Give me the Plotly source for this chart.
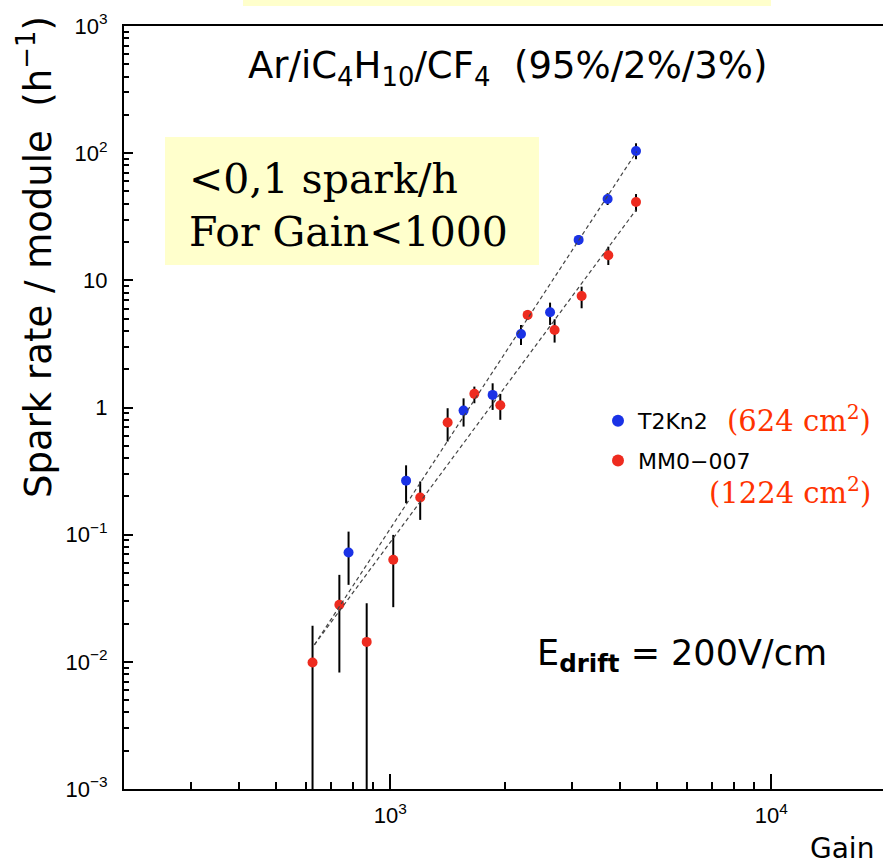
import math
import plotly.graph_objects as go

# ---------------- data ----------------
t2k_gain = [777, 1100, 1557, 1856, 2203, 2626, 3121, 3718, 4415]
t2k_rate = [0.0723, 0.266, 0.945, 1.256, 3.79, 5.61, 20.8, 43.6, 104]
t2k_hi = [0.1057, 0.351, 1.18, 1.55, 4.46, 6.68, 22.7, 48.4, 119.6]
t2k_lo = [0.0403, 0.177, 0.708, 0.957, 3.10, 4.46, 19.0, 39.1, 89.6]

mm_gain = [625, 735, 867, 1018, 1198, 1414, 1662, 1944, 2293, 2699, 3178, 3734, 4415]
mm_rate = [0.00987, 0.0281, 0.01435, 0.0634, 0.196, 0.761, 1.28, 1.04, 5.35, 4.07, 7.54, 15.75, 41.3]
mm_hi = [0.0192, 0.0483, 0.0289, 0.0996, 0.262, 0.987, 1.46, 1.28, 5.85, 4.94, 8.92, 18.4, 47.7]
mm_lo = [0.0001, 0.00824, 0.0001, 0.0269, 0.1307, 0.54, 1.08, 0.80, 4.89, 3.24, 6.03, 13.2, 34.7]

# fitted power-law lines (end points)
t2k_fit_gain = [632, 4431]
t2k_fit_rate = [0.0136, 102.8]
mm_fit_gain = [632, 4415]
mm_fit_rate = [0.0136, 35.8]

series_names = ["T2Kn2", "MM0\u2212007"]
areas = ["(624 cm<sup>2</sup>)", "(1224 cm<sup>2</sup>)"]

# tick labels
x_tickvals = [1e3, 1e4]
x_ticktext = ["10<sup>3</sup>", "10<sup>4</sup>"]
y_tickvals = [1e-3, 1e-2, 1e-1, 1, 10, 100, 1000]
y_ticktext = ["10<sup>\u22123</sup>", "10<sup>\u22122</sup>", "10<sup>\u22121</sup>",
              "1", "10", "10<sup>2</sup>", "10<sup>3</sup>"]

# ---------------- layout geometry ----------------
W, H = 883, 862
L, T, B = 124, 26, 789
R = W
PW, PH = R - L, B - T


def px(x):
    return (x - L) / PW


def py(y):
    return (B - y) / PH


BLUE = "#1a32e6"
RED = "#ee2b1f"
TXTRED = "#ff3300"
SANS = "DejaVu Sans"

fig = go.Figure()


def add_series(gx, gy, hi, lo, name, color, group):
    fig.add_trace(go.Scatter(
        x=gx, y=gy, mode="markers", name=name, legendgroup=group,
        marker=dict(color=color, size=10, line=dict(width=0)),
        error_y=dict(type="data", symmetric=False,
                     array=[h - v for h, v in zip(hi, gy)],
                     arrayminus=[v - l for v, l in zip(gy, lo)],
                     color="black", thickness=2, width=0),
    ))


add_series(t2k_gain, t2k_rate, t2k_hi, t2k_lo, series_names[0], BLUE, "a")
add_series(mm_gain, mm_rate, mm_hi, mm_lo, series_names[1], RED, "b")

for fx, fy in [(t2k_fit_gain, t2k_fit_rate), (mm_fit_gain, mm_fit_rate)]:
    fig.add_trace(go.Scatter(x=fx, y=fy, mode="lines", showlegend=False,
                             line=dict(color="#444444", width=1.2, dash="4px,3px"),
                             hoverinfo="skip"))

x_lo = math.log10(200)
x_hi = x_lo + PW / 381.0

# minor tick positions (2..9 in every decade)
x_minor = [m * 10 ** e for e in (2, 3, 4) for m in range(2, 10)]
y_minor = [m * 10.0 ** e for e in range(-3, 3) for m in range(2, 10)]

fig.update_layout(
    xaxis=dict(
        type="log", tickmode="array", tickvals=x_tickvals, ticktext=x_ticktext,
        range=[x_lo, x_hi], showgrid=False, zeroline=False,
        showline=True, linecolor="black", linewidth=2, mirror=True,
        ticks="inside", tickcolor="black", tickwidth=1.5, ticklen=15,
        minor=dict(ticks="inside", ticklen=7.5, tickwidth=1.5, tickcolor="black",
                   tickmode="array", tickvals=x_minor, showgrid=False),
        tickfont=dict(family="Liberation Sans", size=22, color="black"),
        ticklabelstandoff=6,
    ),
    yaxis=dict(
        type="log", tickmode="array", tickvals=y_tickvals, ticktext=y_ticktext,
        range=[-3, 3], showgrid=False, zeroline=False,
        showline=True, linecolor="black", linewidth=2, mirror=False,
        ticks="inside", tickcolor="black", tickwidth=1.5, ticklen=9,
        minor=dict(ticks="inside", ticklen=4.5, tickwidth=1.5, tickcolor="black",
                   tickmode="array", tickvals=y_minor, showgrid=False),
        tickfont=dict(family="Liberation Sans", size=22, color="black"),
        ticklabelstandoff=10,
    ),
)

shapes = [
    dict(type="rect", xref="paper", yref="paper", x0=px(165), x1=px(539),
         y0=py(265), y1=py(137), fillcolor="#ffffcc", line=dict(width=0), layer="below"),
    dict(type="rect", xref="paper", yref="paper", x0=px(243), x1=px(771),
         y0=py(6), y1=py(0), fillcolor="#ffffcc", line=dict(width=0), layer="below"),
]

annotations = [
    dict(text="Ar/iC<sub>4</sub>H<sub>10</sub>/CF<sub>4</sub>  (95%/2%/3%)",
         x=px(507), y=py(68), xanchor="center", yanchor="middle",
         font=dict(family=SANS, size=37, color="black")),
    dict(text="Spark rate / module  (h<sup>\u22121</sup>)", textangle=-90,
         x=px(35), y=py(257), xanchor="center", yanchor="middle",
         font=dict(family=SANS, size=37, color="black")),
    dict(text="Gain", x=px(876), y=py(848), xanchor="right", yanchor="middle",
         font=dict(family=SANS, size=28, color="black")),
    dict(text="E<sub><b>drift</b></sub> = 200V/cm", x=px(682), y=py(655),
         xanchor="center", yanchor="middle",
         font=dict(family=SANS, size=35, color="black")),
    dict(text="&lt;0,1 spark/h<br>For Gain&lt;1000", x=px(187), y=py(206),
         xanchor="left", yanchor="middle", align="left",
         font=dict(family="DejaVu Serif", size=41, color="black")),
    dict(text=areas[0], x=px(873), y=py(419), xanchor="right", yanchor="middle",
         font=dict(family="DejaVu Serif", size=29, color=TXTRED)),
    dict(text=areas[1], x=px(873), y=py(491), xanchor="right", yanchor="middle",
         font=dict(family="DejaVu Serif", size=29, color=TXTRED)),
]
for a in annotations:
    a.update(xref="paper", yref="paper", showarrow=False)

fig.update_layout(
    width=W, height=H, autosize=False,
    margin=dict(l=L, r=W - R, t=T, b=H - B, pad=0),
    paper_bgcolor="white", plot_bgcolor="white",
    shapes=shapes, annotations=annotations,
    showlegend=True,
    legend=dict(x=px(598), y=py(400), xanchor="left", yanchor="top",
                bgcolor="rgba(0,0,0,0)", borderwidth=0, tracegroupgap=8,
                font=dict(family=SANS, size=22, color="black"),
                itemsizing="constant"),
)

fig.write_html("out.html", config={"displayModeBar": False},
               post_script="document.body.style.margin='0';")
